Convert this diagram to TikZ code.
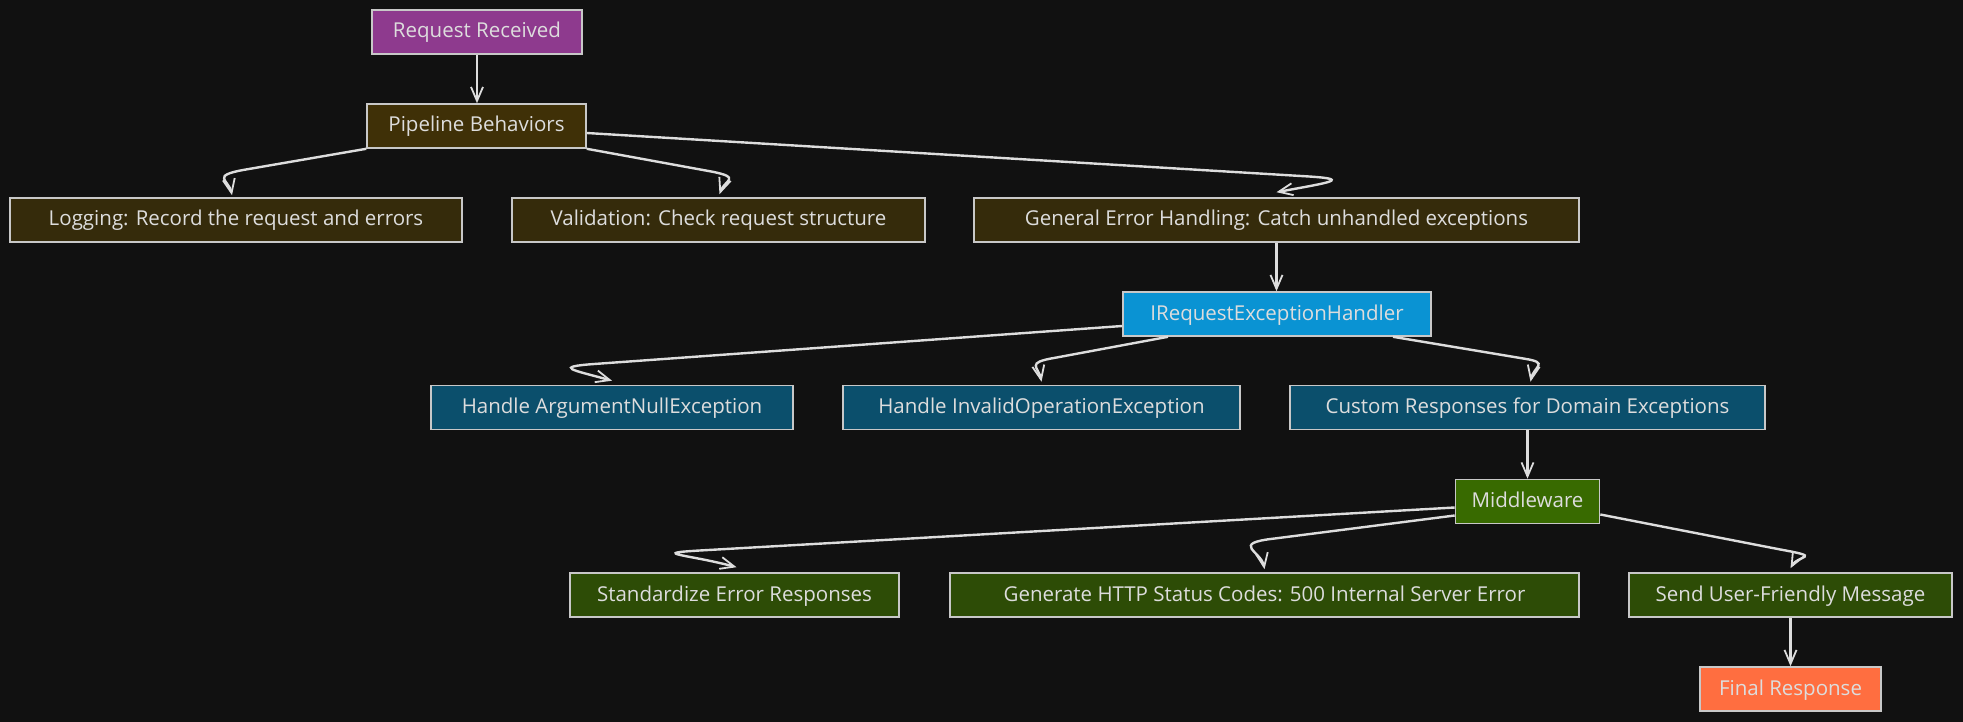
\documentclass[tikz,border=0pt]{standalone}
\usepackage{fontspec}
\setmainfont{Open Sans}
\usetikzlibrary{arrows.meta}

\definecolor{bg}{HTML}{111111}
\definecolor{ink}{HTML}{DDDDDD}
\definecolor{rim}{HTML}{C8C8C8}
\definecolor{reqfill}{HTML}{8E3A8E}
\definecolor{pipefill}{HTML}{3F3007}
\definecolor{stepfill}{HTML}{352B0B}
\definecolor{irqfill}{HTML}{0A93D3}
\definecolor{handfill}{HTML}{0B4F6C}
\definecolor{mwfill}{HTML}{386A00}
\definecolor{outfill}{HTML}{2D4C06}
\definecolor{finfill}{HTML}{FF6E40}

\begin{document}
\begin{tikzpicture}[x=1pt,y=1pt,
    box/.style={draw=rim,line width=1.6pt,text=ink,minimum height=44,inner sep=0pt,
      text height=14pt,text depth=2pt,font=\fontsize{20.5}{24}\selectfont},
    flow/.style={draw=ink,line width=2.4pt,-{Straight Barb[length=14pt,width=12pt,line width=1.8pt]}}]
  \fill[bg] (0,0) rectangle (1963,-722);
  \useasboundingbox (0,0) rectangle (1963,-722);
  \node[box,fill=reqfill,minimum width=210] (req) at (477,-32) {Request Received};
  \node[box,fill=pipefill,minimum width=219] (pipe) at (476.5,-126) {Pipeline Behaviors};
  \foreach \nm/\x/\w/\t in {log/236/452/{Logging: Record the request and errors},
      val/718.5/413/{Validation: Check request structure},
      gen/1276.5/605/{General Error Handling: Catch unhandled exceptions}}
    {\node[box,fill=stepfill,minimum width=\w] (\nm) at (\x,-220) {\t};}
  \node[box,fill=irqfill,minimum width=308] (irq) at (1277,-314) {IRequestExceptionHandler};
  \foreach \nm/\x/\w/\t in {arg/612/362/{Handle ArgumentNullException},
      inv/1041.5/397/{Handle InvalidOperationException},
      cus/1527.5/475/{Custom Responses for Domain Exceptions}}
    {\node[box,fill=handfill,minimum width=\w] (\nm) at (\x,-407.5) {\t};}
  \node[box,fill=mwfill,minimum width=144] (mw) at (1527.5,-501.5) {Middleware};
  \foreach \nm/\x/\w/\t in {std/734.5/329/{Standardize Error Responses},
      http/1264.5/629/{Generate HTTP Status Codes: 500 Internal Server Error},
      snd/1790.5/323/{Send User-Friendly Message}}
    {\node[box,fill=outfill,minimum width=\w] (\nm) at (\x,-595) {\t};}
  \node[box,fill=finfill,minimum width=181] (fin) at (1790.5,-689) {Final Response};
  \draw[flow] (req.south) -- (req.south |- pipe.north);
  \draw[flow] (pipe.south west) -- ++(-122,-21)
    .. controls +(-34,-6) and +(-3,15) .. ([xshift=-4pt,yshift=2pt]log.north);
  \draw[flow] (pipe.south east) -- ++(126,-23)
    .. controls +(29,-6) and +(5,14) .. ([xshift=1pt,yshift=3pt]val.north);
  \draw[flow] ([yshift=-7pt]pipe.east) -- ++(714,-43)
    .. controls +(55,-3) and +(54,10) .. ([yshift=5pt]gen.north);
  \draw[flow] (gen.south) -- (gen.south |- irq.north);
  \draw[flow] ([yshift=-12pt]irq.west) -- ++(-528,-38)
    .. controls +(-41,-3) and +(-40,11) .. ([yshift=4pt]arg.north);
  \draw[flow] ([xshift=-109pt]irq.south) -- ++(-113,-21)
    .. controls +(-30,-5) and +(-3,15) .. ([yshift=3pt]inv.north);
  \draw[flow] ([xshift=116pt]irq.south) -- ++(132,-22)
    .. controls +(25,-4) and +(3,15) .. ([xshift=3pt,yshift=3pt]cus.north);
  \draw[flow] (cus.south) -- (cus.south |- mw.north);
  \draw[flow] ([yshift=-6pt]mw.west) -- ++(-755,-43)
    .. controls +(-51,-3) and +(-49,13) .. ([xshift=2pt,yshift=5pt]std.north);
  \draw[flow] ([yshift=-14pt]mw.west) -- ++(-180,-23)
    .. controls +(-45,-5) and +(-3,18) .. ([yshift=3pt]http.north);
  \draw[flow] ([yshift=-13pt]mw.east) -- ++(180,-35)
    .. controls +(44,-8) and +(7,13) .. ([yshift=4pt]snd.north);
  \draw[flow] (snd.south) -- (snd.south |- fin.north);
\end{tikzpicture}
\end{document}
